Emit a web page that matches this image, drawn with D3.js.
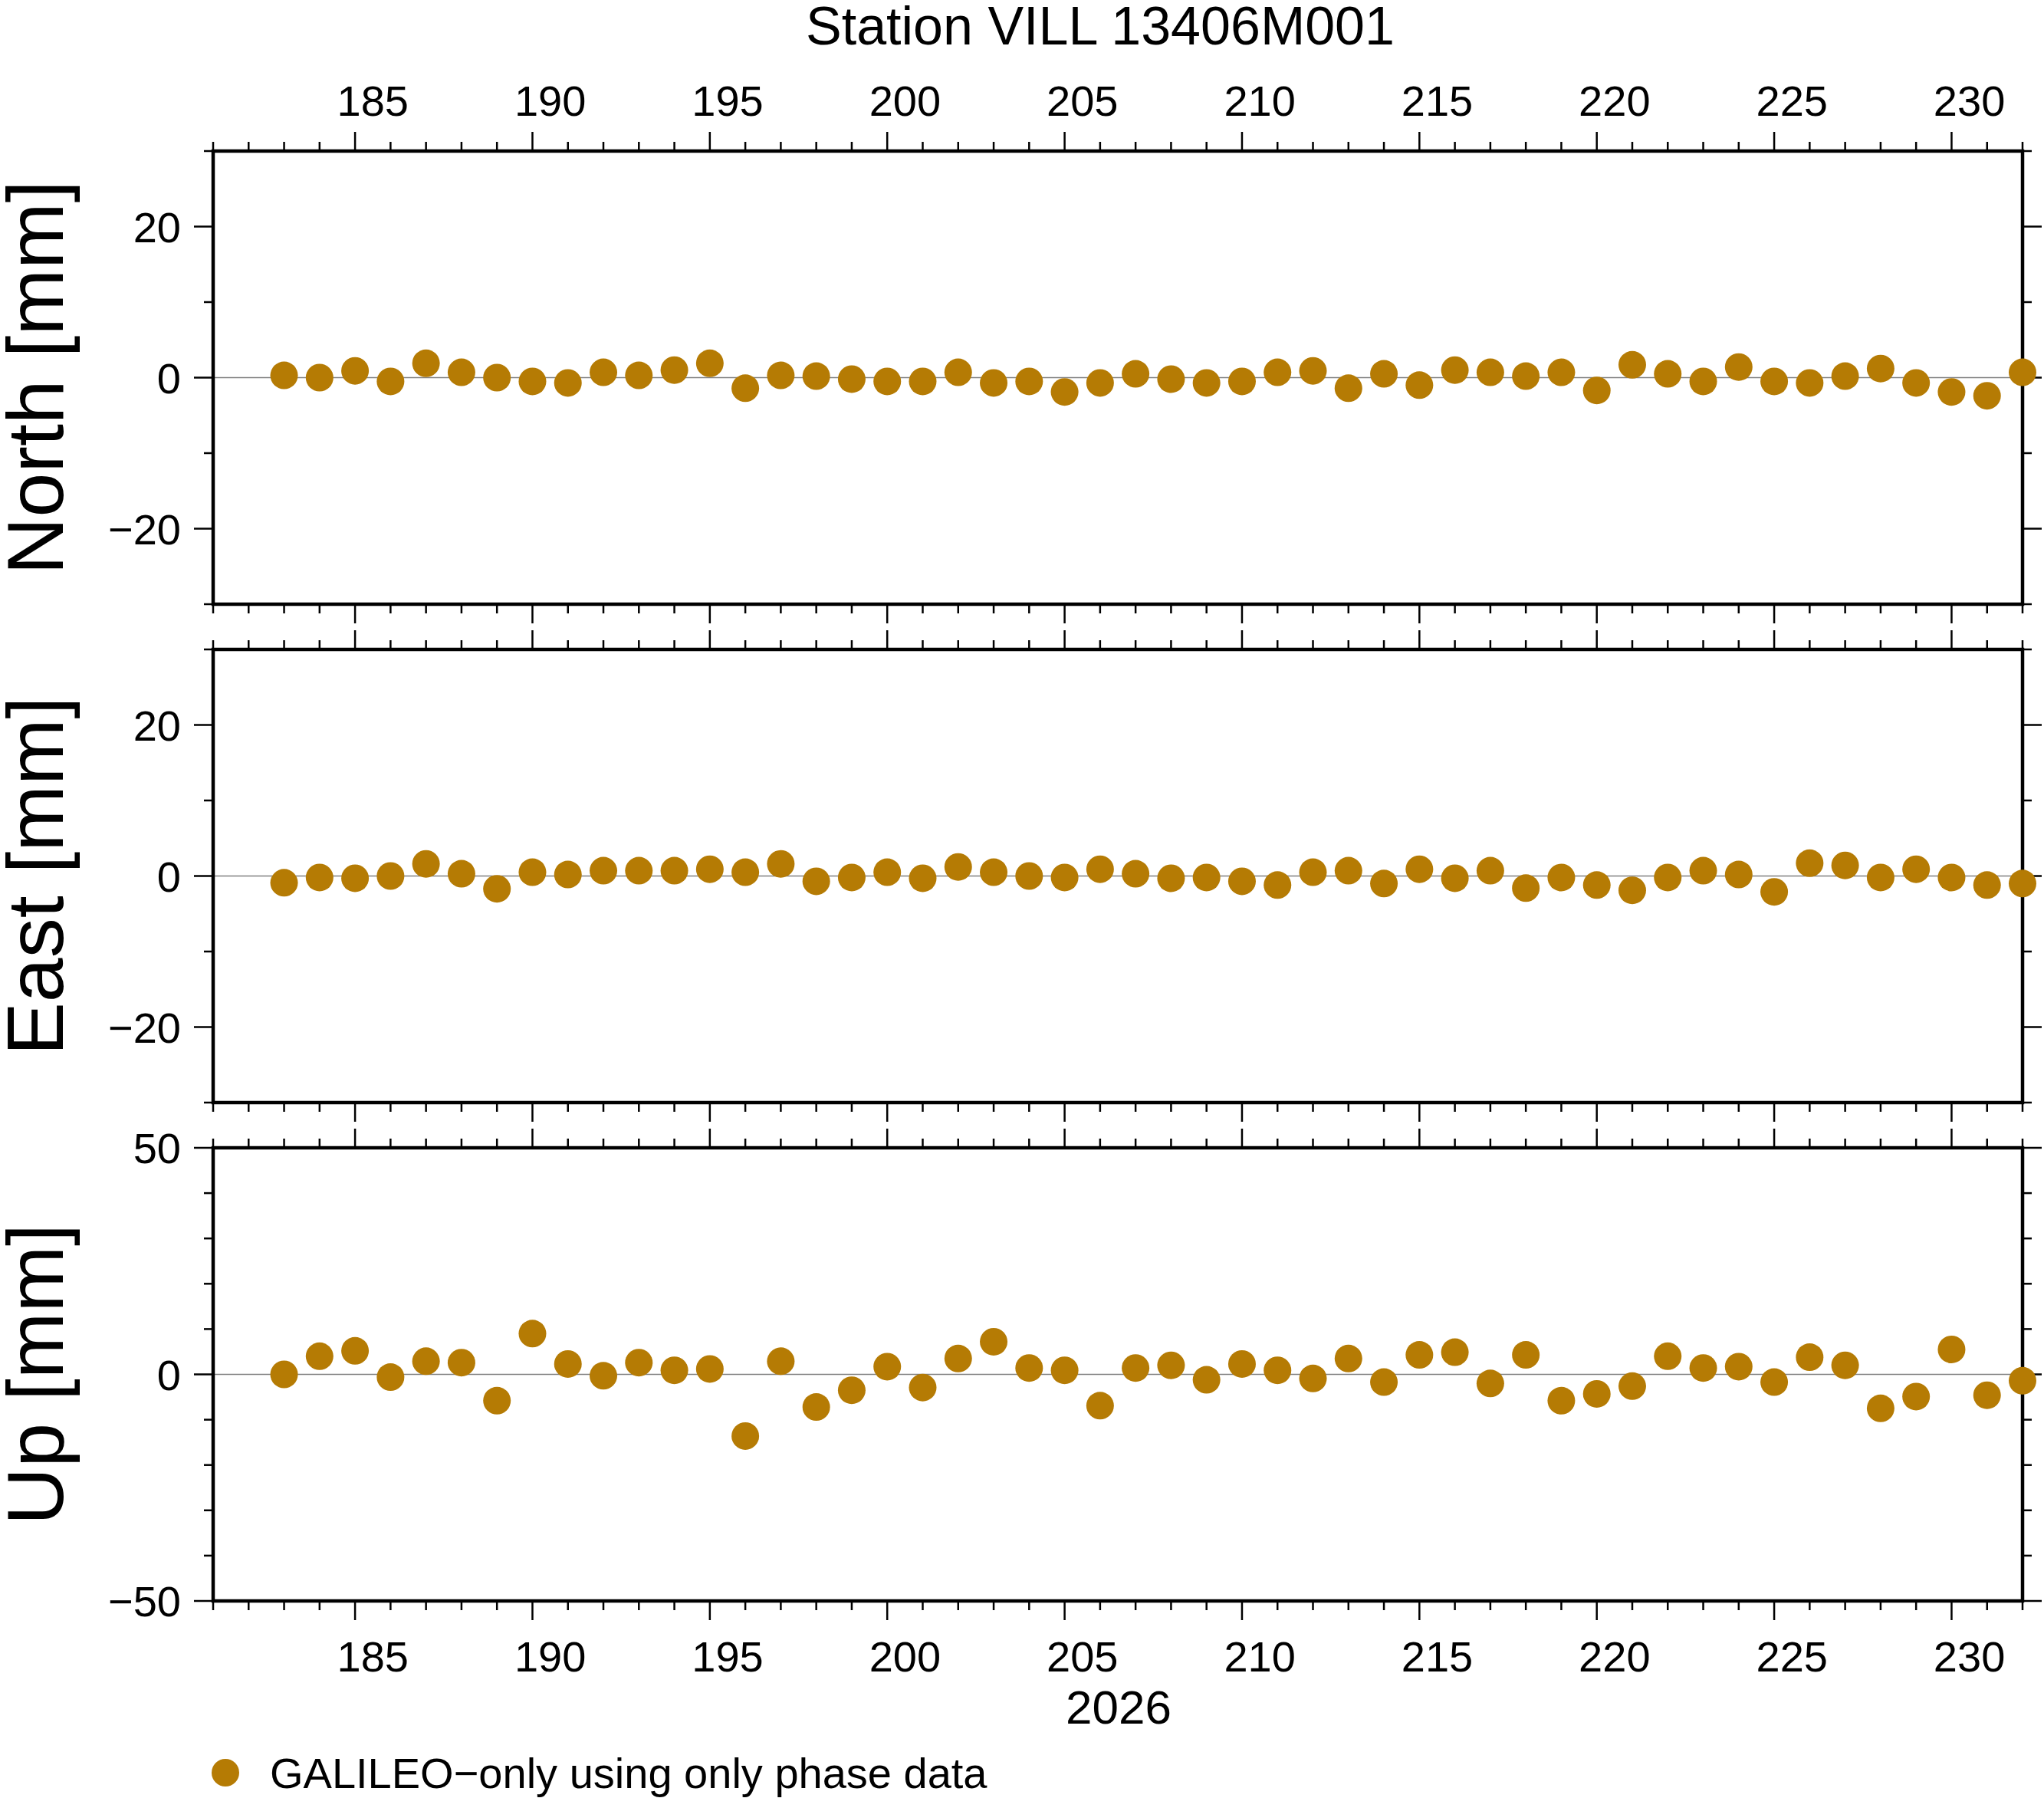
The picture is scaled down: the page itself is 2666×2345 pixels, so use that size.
<!DOCTYPE html>
<html>
<head>
<meta charset="utf-8">
<script src="https://cdn.jsdelivr.net/npm/d3@7"></script>
<style>
  body { margin: 0; background: #fff; }
  text { font-family: "Liberation Sans", Helvetica, Arial, sans-serif; fill: #000; }
</style>
</head>
<body>
<svg id="chart" width="2666" height="2345"></svg>
<script>
// day of year 2026
var days = d3.range(183, 233);

var northValues = [0.3, 0, 0.9, -0.5, 1.9, 0.7, 0, -0.5, -0.7, 0.7,
  0.3, 1.0, 1.9, -1.4, 0.3, 0.2, -0.2, -0.5, -0.5, 0.7,
  -0.7, -0.5, -1.9, -0.7, 0.5, -0.2, -0.7, -0.5, 0.7, 0.9,
  -1.4, 0.5, -1.0, 1.0, 0.7, 0.2, 0.7, -1.7, 1.7, 0.5,
  -0.5, 1.4, -0.5, -0.7, 0.2, 1.2, -0.7, -1.9, -2.4, 0.7];

var eastValues = [-0.9, -0.2, -0.3, 0, 1.6, 0.3, -1.7, 0.5, 0.2, 0.7,
  0.7, 0.7, 0.9, 0.5, 1.6, -0.7, -0.2, 0.5, -0.3, 1.2,
  0.5, 0, -0.2, 0.9, 0.3, -0.3, -0.2, -0.7, -1.2, 0.5,
  0.7, -1.0, 0.9, -0.3, 0.7, -1.6, -0.2, -1.2, -1.9, -0.2,
  0.7, 0.2, -2.1, 1.7, 1.4, -0.2, 0.9, -0.2, -1.2, -1.0];

var upValues = [0, 4, 5.2, -0.6, 2.9, 2.6, -5.8, 9, 2.3, -0.3,
  2.6, 0.9, 1.2, -13.6, 2.9, -7.2, -3.5, 1.7, -2.9, 3.5,
  7.2, 1.4, 0.9, -6.9, 1.4, 2, -1.2, 2.3, 0.9, -0.9,
  3.5, -1.7, 4.3, 4.9, -2, 4.3, -5.8, -4.3, -2.6, 4,
  1.4, 1.7, -1.7, 3.8, 2, -7.5, -4.9, 5.5, -4.6, -1.4];

var xTickLabels = [185, 190, 195, 200, 205, 210, 215, 220, 225, 230];

var panels = [
  { name: "North [mm]", values: northValues, domain: [-30, 30], major: [-20, 0, 20], minorStep: 10, top: 197 },
  { name: "East [mm]", values: eastValues, domain: [-30, 30], major: [-20, 0, 20], minorStep: 10, top: 847 },
  { name: "Up [mm]", values: upValues, domain: [-50, 50], major: [-50, 0, 50], minorStep: 10, top: 1497 }
];

var dotColor = "#b57b04";
var left = 278, right = 2638, panelH = 591;
var majorLen = 25, minorLen = 12;

var svg = d3.select("#chart");
var x = d3.scaleLinear().domain([181, 232]).range([left, right]);

svg.append("text")
  .attr("x", 1435).attr("y", 58)
  .attr("text-anchor", "middle").attr("font-size", 70)
  .text("Station VILL 13406M001");

panels.forEach(function (p, i) {
  var y = d3.scaleLinear().domain(p.domain).range([p.top + panelH, p.top]);
  var g = svg.append("g");
  var yMinor = d3.range(p.domain[0], p.domain[1] + 0.001, p.minorStep);
  var xAll = d3.range(181, 233);

  // zero line
  g.append("line")
    .attr("x1", left).attr("x2", right)
    .attr("y1", y(0)).attr("y2", y(0))
    .attr("stroke", "#808080").attr("stroke-width", 1.5);

  // y ticks left and right, outward
  yMinor.forEach(function (v) {
    var len = p.major.indexOf(v) >= 0 ? majorLen : minorLen;
    g.append("line").attr("x1", left - len).attr("x2", left)
      .attr("y1", y(v)).attr("y2", y(v)).attr("stroke", "#000").attr("stroke-width", 2.5);
    g.append("line").attr("x1", right).attr("x2", right + len)
      .attr("y1", y(v)).attr("y2", y(v)).attr("stroke", "#000").attr("stroke-width", 2.5);
  });
  p.major.forEach(function (v) {
    g.append("text")
      .attr("x", left - 42).attr("y", y(v) + 20)
      .attr("text-anchor", "end").attr("font-size", 56)
      .text(v < 0 ? "\u2212" + Math.abs(v) : v);
  });

  // x ticks top and bottom, outward
  xAll.forEach(function (d) {
    var len = d % 5 === 0 ? majorLen : minorLen;
    g.append("line").attr("x1", x(d)).attr("x2", x(d))
      .attr("y1", p.top - len).attr("y2", p.top).attr("stroke", "#000").attr("stroke-width", 2.5);
    g.append("line").attr("x1", x(d)).attr("x2", x(d))
      .attr("y1", p.top + panelH).attr("y2", p.top + panelH + len).attr("stroke", "#000").attr("stroke-width", 2.5);
  });

  // frame
  g.append("rect")
    .attr("x", left).attr("y", p.top)
    .attr("width", right - left).attr("height", panelH)
    .attr("fill", "none").attr("stroke", "#000").attr("stroke-width", 4.5);

  // points
  g.selectAll("circle.pt")
    .data(days.map(function (d, k) { return [d, p.values[k]]; }))
    .enter().append("circle")
    .attr("class", "pt")
    .attr("cx", function (d) { return x(d[0]); })
    .attr("cy", function (d) { return y(d[1]); })
    .attr("r", 18)
    .attr("fill", dotColor);

  // y axis label
  svg.append("text")
    .attr("transform", "translate(82," + (p.top + panelH / 2) + ") rotate(-90)")
    .attr("text-anchor", "middle").attr("font-size", 104)
    .text(p.name);

  // x tick labels on top of first and bottom of last panel (centred on the day)
  if (i === 0 || i === panels.length - 1) {
    var ly = i === 0 ? p.top - 46 : p.top + panelH + 92;
    xTickLabels.forEach(function (d) {
      g.append("text")
        .attr("x", x(d + 0.5)).attr("y", ly)
        .attr("text-anchor", "middle").attr("font-size", 56)
        .text(d);
    });
  }
});

svg.append("text")
  .attr("x", 1459).attr("y", 2248)
  .attr("text-anchor", "middle").attr("font-size", 62)
  .text("2026");

// legend
svg.append("circle").attr("cx", 294).attr("cy", 2312).attr("r", 18).attr("fill", dotColor);
svg.append("text")
  .attr("x", 352).attr("y", 2332).attr("font-size", 56)
  .text("GALILEO\u2212only using only phase data");
</script>
</body>
</html>
